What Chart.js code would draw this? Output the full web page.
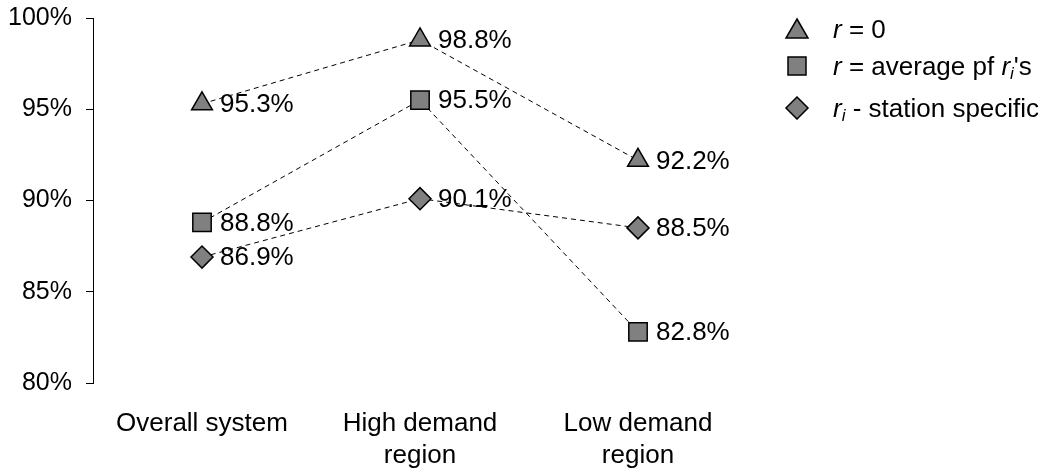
<!DOCTYPE html>
<html>
<head>
<meta charset="utf-8">
<script src="https://cdn.jsdelivr.net/npm/chart.js@4.4.1/dist/chart.umd.min.js"></script>
<style>
  html, body { margin: 0; padding: 0; background: #fff; }
  #wrap { position: relative; width: 1056px; height: 472px; }
  #legend { position: absolute; left: 780px; top: 0; font-family: "Liberation Sans", Arial, sans-serif; font-size: 26px; color: #000; }
  .row { position: absolute; left: 0; white-space: nowrap; height: 30px; line-height: 30px; }
  .row svg { position: absolute; left: 4px; top: 3px; }
  .row span.t { position: absolute; left: 53px; top: 0; }
  sub { font-size: 17px; vertical-align: -4px; line-height: 0; }
</style>
</head>
<body>
<div id="wrap">
  <canvas id="c" width="1056" height="472"></canvas>
  <div id="legend">
    <div class="row" style="top:14px;">
      <svg width="26" height="24"><polygon points="13,2 24,21 2,21" fill="#808080" stroke="#000" stroke-width="1.5"/></svg>
      <span class="t"><i>r</i> = 0</span>
    </div>
    <div class="row" style="top:51px;">
      <svg width="26" height="24"><rect x="4" y="3" width="18" height="18" fill="#808080" stroke="#000" stroke-width="1.5"/></svg>
      <span class="t"><i>r</i> = average pf <i>r<sub>i</sub></i>'s</span>
    </div>
    <div class="row" style="top:93px;">
      <svg width="26" height="24"><polygon points="13,1 24,12 13,23 2,12" fill="#808080" stroke="#000" stroke-width="1.5"/></svg>
      <span class="t"><i>r<sub>i</sub></i> - station specific</span>
    </div>
  </div>
</div>
<script>
const categories = ["Overall system", ["High demand", "region"], ["Low demand", "region"]];
const rZero = [95.3, 98.8, 92.2];
const rAverage = [88.8, 95.5, 82.8];
const rStation = [86.9, 90.1, 88.5];
const yTicks = [80, 85, 90, 95, 100];
const seriesNames = ["r = 0", "r = average pf ri's", "ri - station specific"];

const FONT = '"Liberation Sans", Arial, sans-serif';

const labelPlugin = {
  id: 'pointLabels',
  afterDatasetsDraw(chart) {
    const ctx = chart.ctx;
    ctx.save();
    ctx.font = '26px ' + FONT;
    ctx.fillStyle = '#000';
    ctx.textBaseline = 'middle';
    ctx.textAlign = 'left';
    chart.data.datasets.forEach((ds, i) => {
      const meta = chart.getDatasetMeta(i);
      meta.data.forEach((pt, j) => {
        ctx.fillText(ds.data[j].toFixed(1) + '%', pt.x + 18, pt.y + 1);
      });
    });
    ctx.restore();
  }
};

function ds(label, data, style, radius) {
  return {
    label, data,
    borderColor: '#000', borderWidth: 1, borderDash: [5, 4],
    backgroundColor: '#808080',
    pointStyle: style, pointRadius: radius, pointHoverRadius: radius,
    pointBackgroundColor: '#808080', pointBorderColor: '#000', pointBorderWidth: 1.5,
    tension: 0, fill: false
  };
}

new Chart(document.getElementById('c'), {
  type: 'line',
  data: {
    labels: categories,
    datasets: [
      ds(seriesNames[0], rZero, 'triangle', 12),
      ds(seriesNames[1], rAverage, 'rect', 13),
      ds(seriesNames[2], rStation, 'rectRot', 11)
    ]
  },
  options: {
    responsive: false,
    animation: false,
    devicePixelRatio: 1,
    layout: { padding: { left: 0, right: 309, top: 18, bottom: 0 } },
    plugins: { legend: { display: false }, tooltip: { enabled: false } },
    scales: {
      x: {
        offset: true,
        grid: { display: false },
        border: { display: false },
        afterFit(axis) { axis.height = 89; axis.paddingLeft = 0; axis.paddingRight = 0; },
        ticks: { font: { family: FONT, size: 26, lineHeight: 1.22 }, color: '#000', padding: 17, maxRotation: 0 }
      },
      y: {
        min: 80, max: 100,
        afterBuildTicks(axis) { axis.ticks = yTicks.map(v => ({ value: v })); },
        afterFit(axis) { axis.width = 93; axis.paddingTop = 0; axis.paddingBottom = 0; },
        grid: { drawOnChartArea: false, drawTicks: true, tickLength: 7, color: '#000', lineWidth: 1 },
        border: { display: true, color: '#000', width: 1 },
        ticks: { font: { family: FONT, size: 25 }, color: '#000', padding: 14, callback: v => v + '%' }
      }
    }
  },
  plugins: [labelPlugin]
});
</script>
</body>
</html>
